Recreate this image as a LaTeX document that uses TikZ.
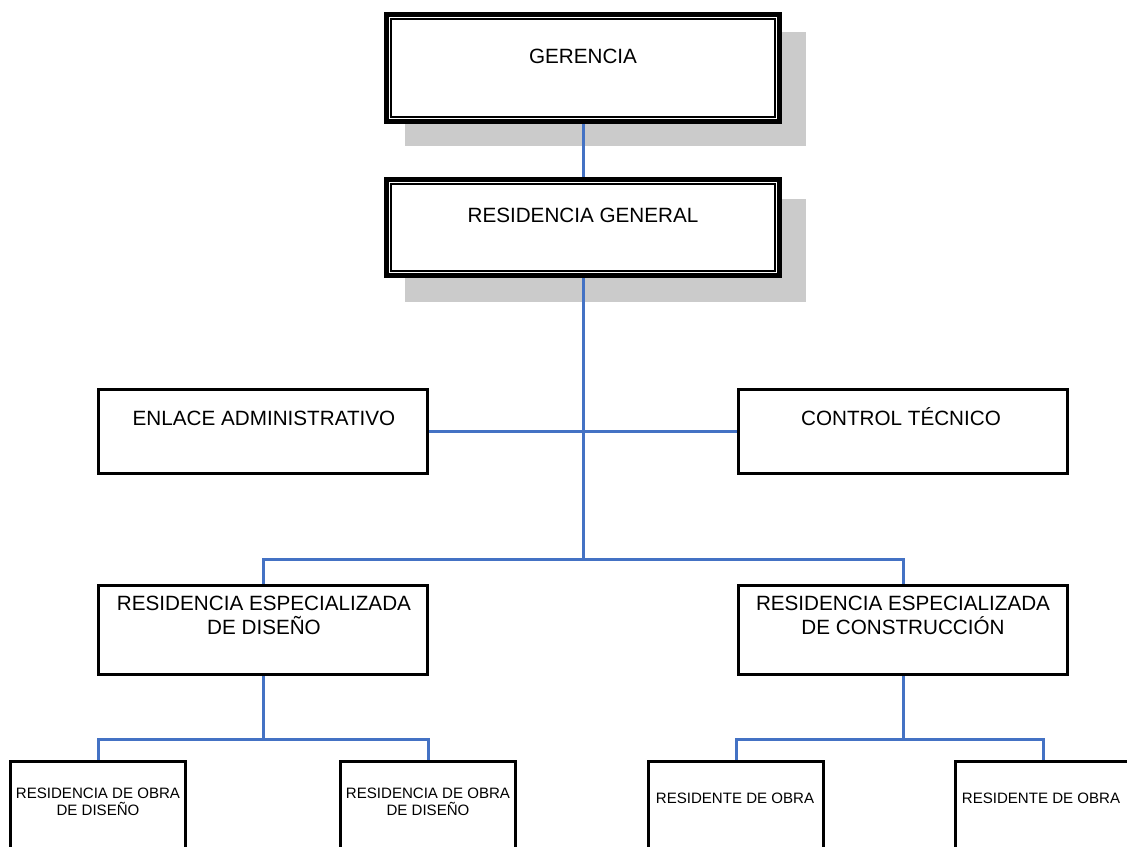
\documentclass[tikz,border=0pt]{standalone}
\usepackage{fontspec}
\setmainfont{Liberation Sans}
\usetikzlibrary{calc}
\newdimen\pxu \pxu=0.75pt
\definecolor{linkblue}{HTML}{4472C4}
\definecolor{shadowgray}{HTML}{CBCBCB}
\begin{document}
\begin{tikzpicture}[x=0.75pt,y=-0.75pt,
  shadowbox/.style={fill=shadowgray,draw=none,minimum width=401\pxu,minimum height=114\pxu,inner sep=0pt},
  topbox/.style={draw=black,fill=white,line width=5\pxu,minimum width=393\pxu,inner sep=0pt},
  midbox/.style={draw=black,fill=white,line width=3\pxu,minimum width=329\pxu,inner sep=0pt},
  lowbox/.style={draw=black,fill=white,line width=3.5\pxu,minimum width=175\pxu,minimum height=120\pxu,inner sep=0pt},
  inner/.style={draw=black,line width=1.5\pxu},
  conn/.style={draw=linkblue,line width=3\pxu},
  bigtxt/.style={inner sep=0pt,font=\fontsize{15.5}{18}\selectfont,align=center},
  smalltxt/.style={inner sep=0pt,font=\fontsize{11.3}{12.75}\selectfont,align=center}]
\path[use as bounding box] (0,0) rectangle (1127,846);
\clip (0,0) rectangle (1127,846);

% shadows
\node[shadowbox] (gs) at (605,89) {};
\node[shadowbox,minimum height=103\pxu] (rs) at (605,250.5) {};

% top boxes (double border)
\node[topbox,minimum height=107\pxu] (g) at (583,68) {};
\draw[inner] ($(g.center)+(-192,-49)$) rectangle ($(g.center)+(192,49)$);
\node[topbox,minimum height=96\pxu] (rg) at (583,227.5) {};
\draw[inner] ($(rg.center)+(-192,-43.5)$) rectangle ($(rg.center)+(192,43.5)$);

% middle boxes
\node[midbox,minimum height=84\pxu] (enl) at (263,431.5) {};
\node[midbox,minimum height=84\pxu] (ctl) at (903,431.5) {};
\node[midbox,minimum height=89\pxu] (esd) at (263,630) {};
\node[midbox,minimum height=89\pxu] (esc) at (903,630) {};

% bottom boxes
\node[lowbox] (r1) at (98,821.5) {};
\node[lowbox] (r2) at (428,821.5) {};
\node[lowbox] (r3) at (736,821.5) {};
\node[lowbox] (r4) at (1043,821.5) {};

% connector junctions
\coordinate (b1) at (583,559);
\coordinate (b2) at (263,739);
\coordinate (b3) at (903,739);

\draw[conn] (g.south) -- (rg.south |- g.south) -- (rg.north);
\draw[conn] (rg.south) -- (b1);
\draw[conn] (enl.east) -- (ctl.west);
\draw[conn] (esd.north) |- (b1) -| (esc.north);
\draw[conn] (esd.south) -- (b2);
\draw[conn] (r1.north) |- (b2) -| (r2.north);
\draw[conn] (esc.south) -- (b3);
\draw[conn] (r3.north) |- (b3) -| (r4.north);

% texts
\node[bigtxt,anchor=base] (tg) at (583,63) {GERENCIA};
\node[bigtxt,anchor=base] (trg) at (583,222) {RESIDENCIA GENERAL};
\node[bigtxt,anchor=base] (tenl) at (264,425) {ENLACE ADMINISTRATIVO};
\node[bigtxt,anchor=base] (tctl) at (901,425) {CONTROL TÉCNICO};
\node[bigtxt,anchor=south] (tesd) at (264,635) {RESIDENCIA ESPECIALIZADA\\DE DISEÑO};
\node[bigtxt,anchor=south] (tesc) at (903,635) {RESIDENCIA ESPECIALIZADA\\DE CONSTRUCCIÓN};
\node[smalltxt,anchor=south] (tr1) at (98,816) {RESIDENCIA DE OBRA\\DE DISEÑO};
\node[smalltxt,anchor=south] (tr2) at (428,816) {RESIDENCIA DE OBRA\\DE DISEÑO};
\node[smalltxt,anchor=base] (tr3) at (735,803) {RESIDENTE DE OBRA};
\node[smalltxt,anchor=base] (tr4) at (1041,803) {RESIDENTE DE OBRA};
\end{tikzpicture}
\end{document}
